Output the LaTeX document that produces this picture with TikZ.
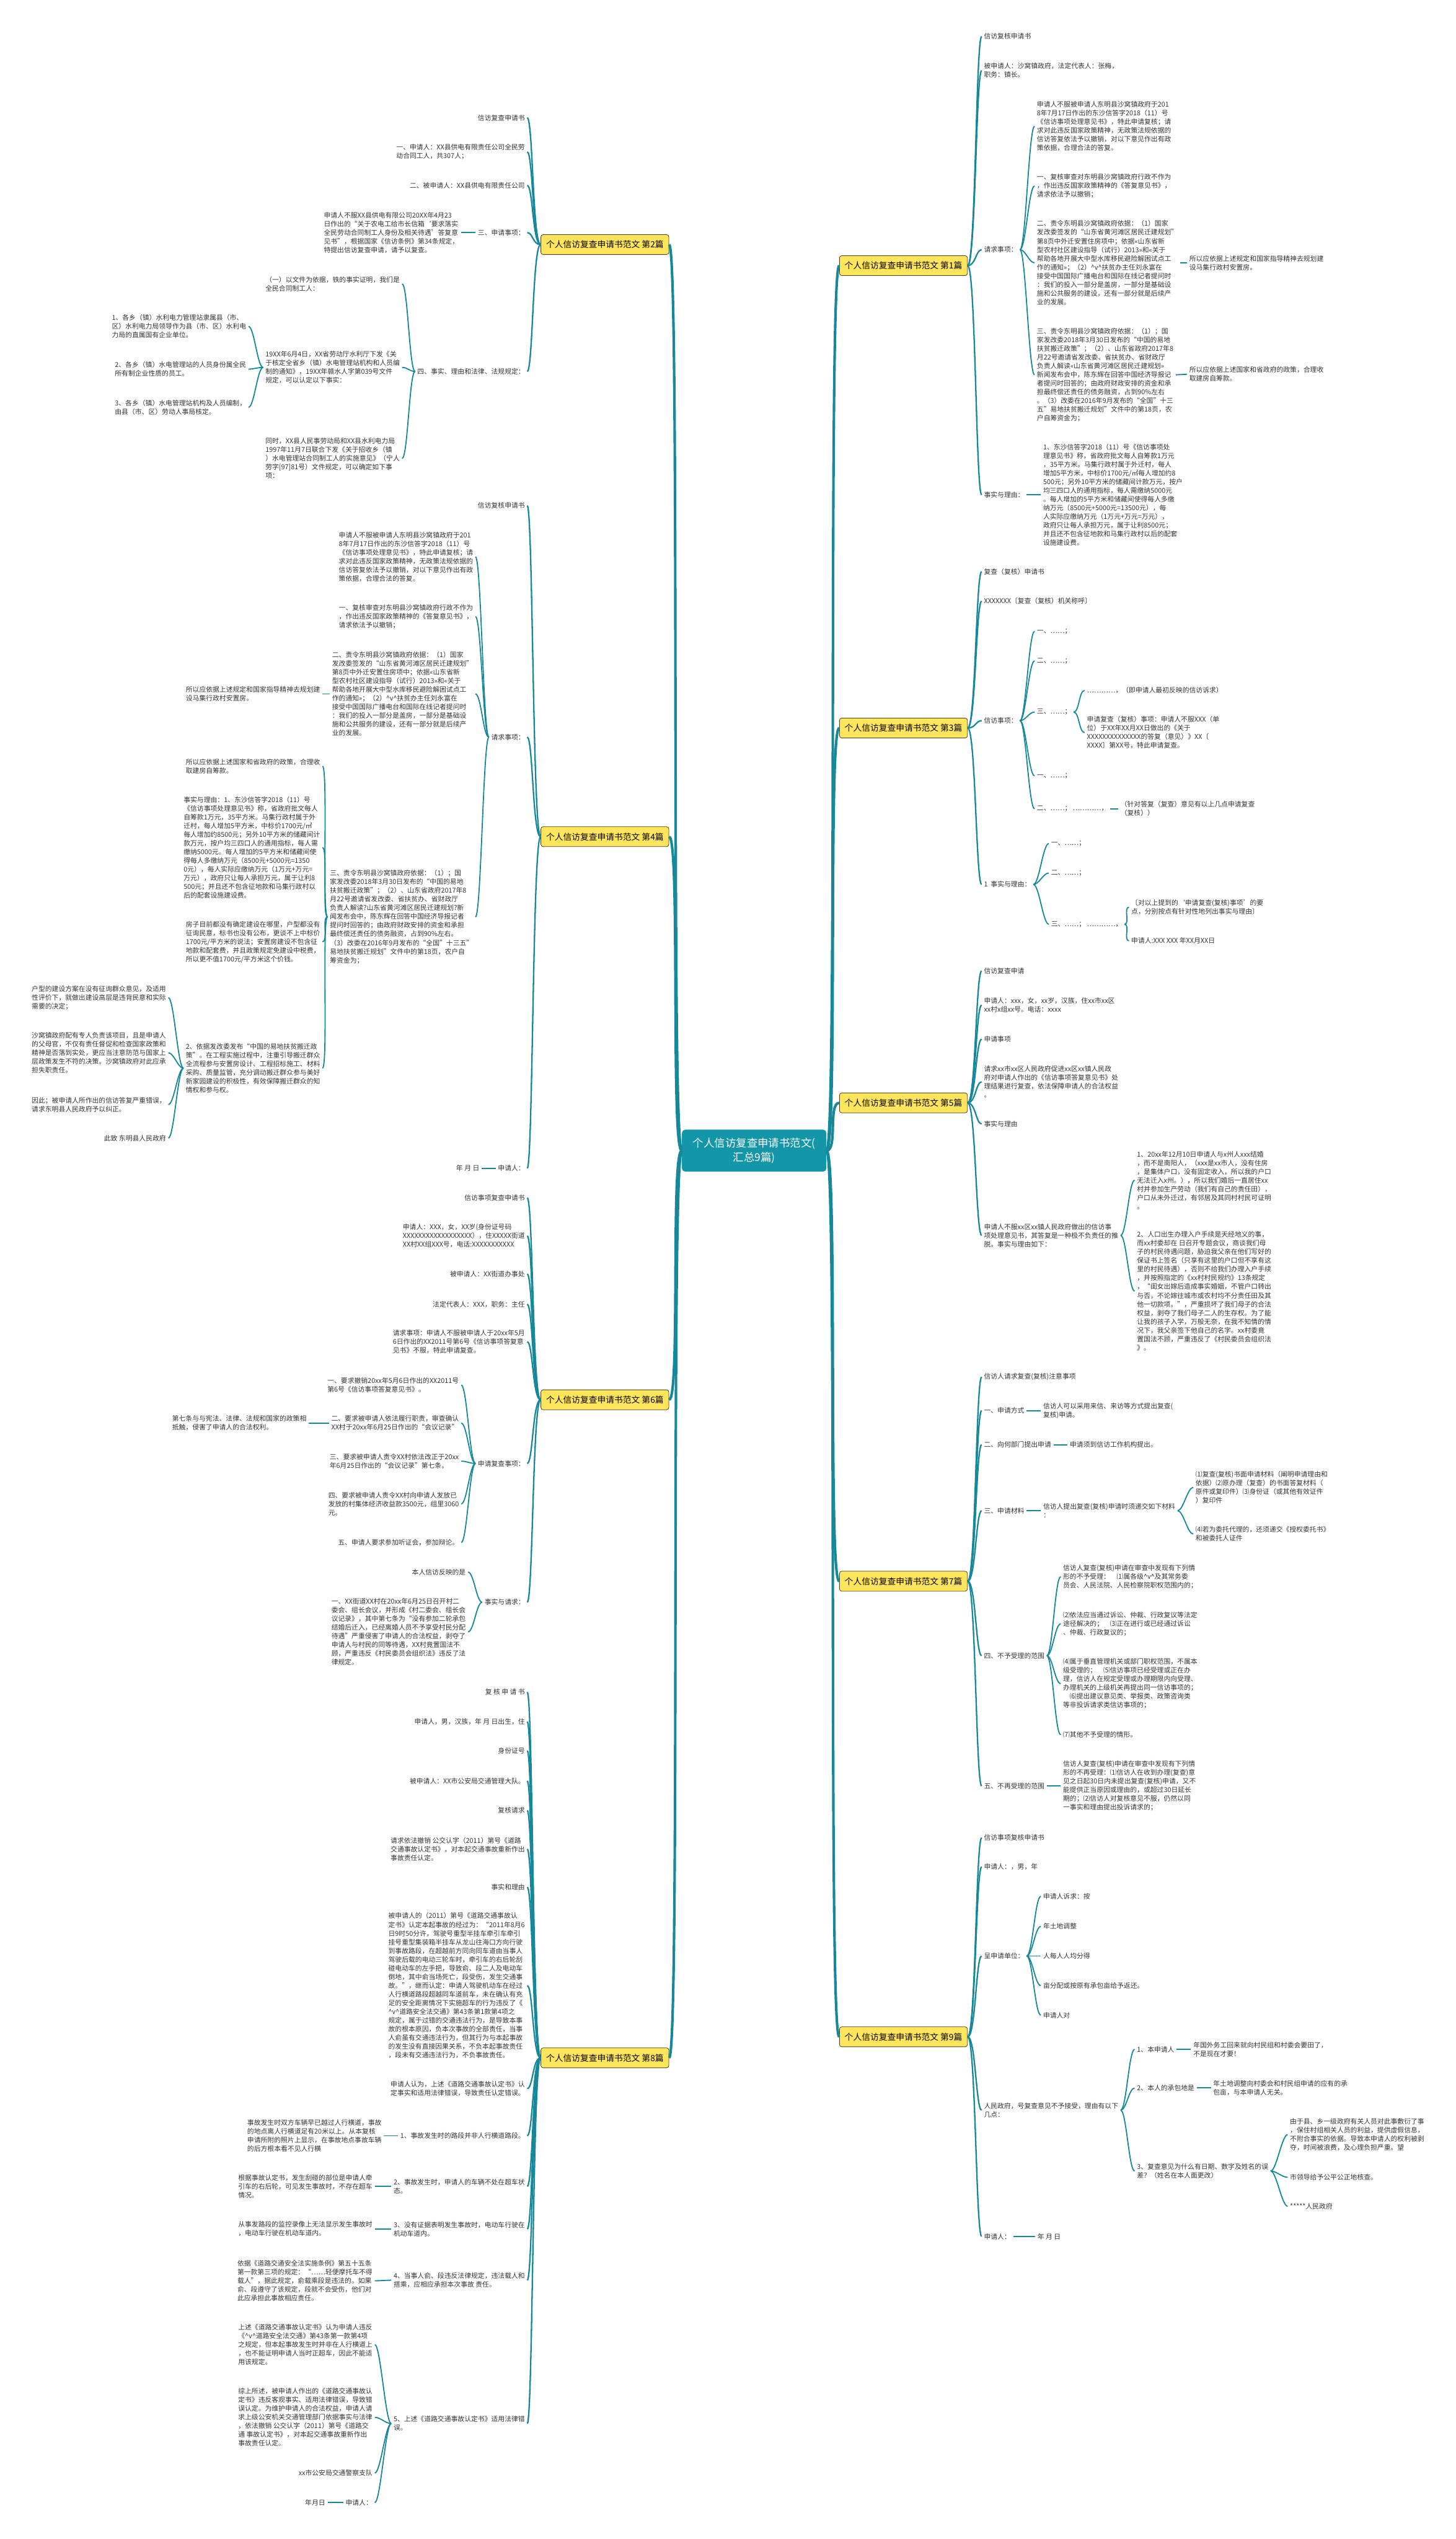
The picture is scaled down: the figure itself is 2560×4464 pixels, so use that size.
\documentclass[tikz,border=0pt]{standalone}
\usepackage{fontspec}
\newfontfamily\cjk{Noto Sans CJK SC}
\usetikzlibrary{calc}
\definecolor{lnk}{HTML}{17889A}
\definecolor{txc}{HTML}{333333}
\definecolor{topicfill}{HTML}{FFE55C}
\definecolor{topicdraw}{HTML}{4A4020}
\definecolor{rootfill}{HTML}{1396A8}
\newcommand\hatv{\textasciicircum v\textasciicircum}
\newcommand\linkR[3][]{\draw[lk,#1] (#2.east) .. controls ($(#2.east)+(14,0)$) and ($(#3.west)+(-14,0)$) .. (#3.west);}
\newcommand\linkL[3][]{\draw[lk,#1] (#2.west) .. controls ($(#2.west)+(-14,0)$) and ($(#3.east)+(14,0)$) .. (#3.east);}
\tikzset{
  R/.style={anchor=west, inner sep=0pt, align=left, font=\cjk\fontsize{11.8}{15.3}\selectfont, text=txc},
  L/.style={R, anchor=east},
  topic/.style={draw=topicdraw, fill=topicfill, rounded corners=4pt, minimum width=225pt, minimum height=35pt, inner sep=0pt, font=\cjk\fontsize{15}{18}\selectfont, text=black, line width=0.9pt},
  rootn/.style={fill=rootfill, rounded corners=6pt, minimum width=254pt, minimum height=74pt, inner sep=0pt, align=center, text=white, font=\cjk\fontsize{19}{25}\selectfont},
  lk/.style={draw=lnk, line width=2pt, shorten <=4pt, shorten >=4pt},
  tl/.style={line width=2.5pt, shorten <=0pt},
  l1/.style={draw=lnk, line width=4.5pt}
}
\begin{document}
\begin{tikzpicture}[x=1pt,y=-1pt]
\fill[white] (0,0) rectangle (2560,4464);
\useasboundingbox (0,0) rectangle (2560,4464);

% root and topics
\node[rootn] (root) at (1326,2023) {个人信访复查申请书范文(\\汇总9篇)};
\node[topic] (r1) at (1588.5,467) {个人信访复查申请书范文 第1篇};
\node[topic] (r3) at (1588.5,1280) {个人信访复查申请书范文 第3篇};
\node[topic] (r5) at (1588.5,1939) {个人信访复查申请书范文 第5篇};
\node[topic] (r7) at (1588.5,2780) {个人信访复查申请书范文 第7篇};
\node[topic] (r9) at (1588.5,3581) {个人信访复查申请书范文 第9篇};
\node[topic] (l2) at (1063.5,430) {个人信访复查申请书范文 第2篇};
\node[topic] (l4) at (1063.5,1471) {个人信访复查申请书范文 第4篇};
\node[topic] (l6) at (1063.5,2461) {个人信访复查申请书范文 第6篇};
\node[topic] (l8) at (1063.5,3618) {个人信访复查申请书范文 第8篇};
\foreach \t in {r1,r3,r5,r7,r9}{
  \draw[l1] (root.east) .. controls ($(root.east)+(20,0)$) and ($(\t.west)+(-20,0)$) .. (\t.west);}
\foreach \t in {l2,l4,l6,l8}{
  \draw[l1] (root.west) .. controls ($(root.west)+(-20,0)$) and ($(\t.east)+(20,0)$) .. (\t.east);}

% ===== 第1篇 =====
\node[R] (r1a) at (1730,64) {信访复核申请书};
\node[R] (r1b) at (1730,124) {被申请人：沙窝镇政府，法定代表人：张梅，\\职务：镇长。};
\node[R] (r1c) at (1730,439) {请求事项：};
\node[R] (r1c1) at (1823,222) {申请人不服被申请人东明县沙窝镇政府于201\\8年7月17日作出的东沙信答字2018（11）号\\《信访事项处理意见书》，特此申请复核；请\\求对此违反国家政策精神，无政策法规依据的\\信访答复依法予以撤销，对以下意见作出有政\\策依据，合理合法的答复。};
\node[R] (r1c2) at (1823,327) {一、复核审查对东明县沙窝镇政府行政不作为\\，作出违反国家政策精神的《答复意见书》，\\请求依法予以撤销；};
\node[R] (r1c3) at (1823,462) {二、责令东明县沙窝镇政府依据：（1）国家\\发改委签发的“山东省黄河滩区居民迁建规划”\\第8页中外迁安置住房项中；依据«山东省新\\型农村社区建设指导（试行）2013»和«关于\\帮助各地开展大中型水库移民避险解困试点工\\作的通知»；（2）\hatv 扶贫办主任刘永富在\\接受中国国际广播电台和国际在线记者提问时\\：我们的投入一部分是盖房，一部分是基础设\\施和公共服务的建设，还有一部分就是后续产\\业的发展。};
\node[R] (r1c3a) at (2091,462) {所以应依据上述规定和国家指导精神去规划建\\设马集行政村安置房。};
\node[R] (r1c4) at (1823,659) {三、责令东明县沙窝镇政府依据：（1）；国\\家发改委2018年3月30日发布的“中国的易地\\扶贫搬迁政策”；（2）、山东省政府2017年8\\月22号邀请省发改委、省扶贫办、省财政厅\\负责人解读«山东省黄河滩区居民迁建规划»\\新闻发布会中，陈东辉在回答中国经济导报记\\者提问时回答的；由政府财政安排的资金和承\\担最终偿还责任的债务融资，占到90\%左右\\。（3）改委在2016年9月发布的“全国”十三\\五”易地扶贫搬迁规划”文件中的第18页，农\\户自筹资金为；};
\node[R] (r1c4a) at (2091,658) {所以应依据上述国家和省政府的政策，合理收\\取建房自筹款。};
\node[R] (r1d) at (1730,870) {事实与理由：};
\node[R] (r1d1) at (1834,870) {1、东沙信答字2018（11）号《信访事项处\\理意见书》称，省政府批文每人自筹款1万元\\，35平方米。马集行政村属于外迁村，每人\\增加5平方米，中标价1700元/㎡每人增加约8\\500元；另外10平方米的储藏间计款万元，按户\\均三四口人的通用指标，每人需缴纳5000元\\。每人增加的5平方米和储藏间使得每人多缴\\纳万元（8500元+5000元=13500元），每\\人实际应缴纳万元（1万元+万元=万元），\\政府只让每人承担万元，属于让利8500元；\\并且还不包含征地款和马集行政村以后的配套\\设施建设费。};
\foreach \c in {r1a,r1b,r1c,r1d}{\linkR[tl]{r1}{\c}}
\foreach \c in {r1c1,r1c2,r1c3,r1c4}{\linkR{r1c}{\c}}
\linkR{r1c3}{r1c3a}
\linkR{r1c4}{r1c4a}
\linkR{r1d}{r1d1}

% ===== 第3篇 =====
\node[R] (r3a) at (1730,1005) {复查（复核）申请书};
\node[R] (r3b) at (1730,1057) {XXXXXXX〔复查（复核）机关称呼〕};
\node[R] (r3c) at (1730,1267) {信访事项：};
\node[R] (r3c1) at (1823,1110) {一、……；};
\node[R] (r3c2) at (1823,1162) {二、……；};
\node[R] (r3c3) at (1823,1252) {三、……；};
\node[R] (r3c3a) at (1911,1214) {…………，（即申请人最初反映的信访诉求）};
\node[R] (r3c3b) at (1911,1288) {申请复查（复核）事项：申请人不服XXX（单\\位）于XX年XX月XX日做出的《关于\\XXXXXXXXXXXXXX的答复（意见）》XX〔\\XXXX〕第XX号，特此申请复查。};
\node[R] (r3c4) at (1823,1364) {一、……；};
\node[R] (r3c5) at (1823,1422) {二、……；\ …………，};
\node[R] (r3c5a) at (1970,1422) {（针对答复（复查）意见有以上几点申请复查\\（复核））};
\node[R] (r3d) at (1730,1555) {1\ \ 事实与理由：};
\node[R] (r3d1) at (1848,1483) {一、……；};
\node[R] (r3d2) at (1848,1535) {二、……；};
\node[R] (r3d3) at (1848,1625) {三、……；\ …………，};
\node[R] (r3d3a) at (1989,1595) {〔对以上提到的‘申请复查(复核)事项’的要\\点，分别按点有针对性地列出事实与理由〕};
\node[R] (r3d3b) at (1989,1654) {申请人:XXX XXX 年XX月XX日};
\foreach \c in {r3a,r3b,r3c,r3d}{\linkR[tl]{r3}{\c}}
\foreach \c in {r3c1,r3c2,r3c3,r3c4,r3c5}{\linkR{r3c}{\c}}
\foreach \c in {r3c3a,r3c3b}{\linkR{r3c3}{\c}}
\linkR{r3c5}{r3c5a}
\foreach \c in {r3d1,r3d2,r3d3}{\linkR{r3d}{\c}}
\foreach \c in {r3d3a,r3d3b}{\linkR{r3d3}{\c}}

% ===== 第5篇 =====
\node[R] (r5a) at (1730,1707) {信访复查申请};
\node[R] (r5b) at (1730,1767) {申请人：xxx，女，xx岁，汉族，住xx市xx区\\xx村x组xx号。电话：xxxx};
\node[R] (r5c) at (1730,1827) {申请事项};
\node[R] (r5d) at (1730,1902) {请求xx市xx区人民政府促进xx区xx镇人民政\\府对申请人作出的《信访事项答复意见书》处\\理结果进行复查，依法保障申请人的合法权益\\。};
\node[R] (r5e) at (1730,1976) {事实与理由};
\node[R] (r5f) at (1730,2172) {申请人不服xx区xx镇人民政府做出的信访事\\项处理意见书，其答复是一种极不负责任的推\\脱。事实与理由如下：};
\node[R] (r5f1) at (1999,2075) {1、20xx年12月10日申请人与x州人xxx结婚\\，而不是南阳人，（xxx是xx市人，没有住房\\，是集体户口，没有固定收入，所以我的户口\\无法迁入x州。），所以我们婚后一直居住xx\\村并参加生产劳动（我们有自己的责任田），\\户口从未外迁过，有邻居及其同村村民可证明\\。};
\node[R] (r5f2) at (1999,2270) {2、人口出生办理入户手续是天经地义的事，\\而xx村委却在 日召开专题会议，商谈我们母\\子的村民待遇问题，胁迫我父亲在他们写好的\\保证书上签名（只享有这里的户口但不享有这\\里的村民待遇），否则不给我们办理入户手续\\，并按照指定的《xx村村民规约》13条规定\\，“闺女出嫁后造成事实婚姻，不管户口转出\\与否，不论嫁往城市或农村均不分责任田及其\\他一切款项。”，严重损坏了我们母子的合法\\权益，剥夺了我们母子二人的生存权。为了能\\让我的孩子入学，万般无奈，在我不知情的情\\况下，我父亲签下他自己的名字。xx村委竟\\置国法不顾，严重违反了《村民委员会组织法\\》。};
\foreach \c in {r5a,r5b,r5c,r5d,r5e,r5f}{\linkR[tl]{r5}{\c}}
\foreach \c in {r5f1,r5f2}{\linkR{r5f}{\c}}

% ===== 第7篇 =====
\node[R] (r7a) at (1730,2421) {信访人请求复查(复核)注意事项};
\node[R] (r7b) at (1730,2480) {一、申请方式};
\node[R] (r7b1) at (1834,2480) {信访人可以采用来信、来访等方式提出复查(\\复核)申请。};
\node[R] (r7c) at (1730,2540) {二、向何部门提出申请};
\node[R] (r7c1) at (1881,2540) {申请须到信访工作机构提出。};
\node[R] (r7d) at (1730,2656) {三、申请材料};
\node[R] (r7d1) at (1834,2656) {信访人提出复查(复核)申请时须递交如下材料\\：};
\node[R] (r7d1a) at (2102,2615) {⑴复查(复核)书面申请材料（阐明申请理由和\\依据）⑵原办理（复查）的书面答复材料（\\原件或复印件）⑶身份证（或其他有效证件\\）复印件};
\node[R] (r7d1b) at (2102,2697) {⑷若为委托代理的，还须递交《授权委托书》\\和被委托人证件};
\node[R] (r7e) at (1730,2911) {四、不予受理的范围};
\node[R] (r7e1) at (1869,2772) {信访人复查(复核)申请在审查中发现有下列情\\形的不予受理：\quad ⑴属各级\hatv 及其常务委\\员会、人民法院、人民检察院职权范围内的；};
\node[R] (r7e2) at (1869,2855) {⑵依法应当通过诉讼、仲裁、行政复议等法定\\途径解决的；\quad ⑶正在进行或已经通过诉讼\\、仲裁、行政复议的；};
\node[R] (r7e3) at (1869,2960) {⑷属于垂直管理机关或部门职权范围，不属本\\级受理的；\quad ⑸信访事项已经受理或正在办\\理，信访人在规定受理或办理期限内向受理、\\办理机关的上级机关再提出同一信访事项的；\\\quad ⑹提出建议意见类、举报类、政策咨询类\\等非投诉请求类信访事项的；};
\node[R] (r7e4) at (1869,3050) {⑺其他不予受理的情形。};
\node[R] (r7f) at (1730,3140) {五、不再受理的范围};
\node[R] (r7f1) at (1869,3140) {信访人复查(复核)申请在审查中发现有下列情\\形的不再受理：⑴信访人在收到办理(复查)意\\见之日起30日内未提出复查(复核)申请，又不\\能提供正当原因或理由的，或超过30日延长\\期的；⑵信访人对复核意见不服，仍然以同\\一事实和理由提出投诉请求的；};
\foreach \c in {r7a,r7b,r7c,r7d,r7e,r7f}{\linkR[tl]{r7}{\c}}
\linkR{r7b}{r7b1}
\linkR{r7c}{r7c1}
\linkR{r7d}{r7d1}
\foreach \c in {r7d1a,r7d1b}{\linkR{r7d1}{\c}}
\foreach \c in {r7e1,r7e2,r7e3,r7e4}{\linkR{r7e}{\c}}
\linkR{r7f}{r7f1}

% ===== 第9篇 =====
\node[R] (r9a) at (1730,3231) {信访事项复核申请书};
\node[R] (r9b) at (1730,3282) {申请人：，男，年};
\node[R] (r9c) at (1730,3439) {呈申请单位：};
\node[R] (r9c1) at (1834,3334) {申请人诉求：按};
\node[R] (r9c2) at (1834,3387) {年土地调整};
\node[R] (r9c3) at (1834,3439) {人每人人均分得};
\node[R] (r9c4) at (1834,3491) {亩分配或按原有承包亩给予返还。};
\node[R] (r9c5) at (1834,3543) {申请人对};
\node[R] (r9d) at (1730,3710) {人民政府，号复查意见不予接受，理由有以下\\几点：};
\node[R] (r9d1) at (1999,3603) {1、本申请人};
\node[R] (r9d1a) at (2098,3603) {年国外务工回来就向村民组和村委会要田了，\\不是现在才要！};
\node[R] (r9d2) at (1999,3671) {2、本人的承包地是};
\node[R] (r9d2a) at (2133,3671) {年土地调整向村委会和村民组申请的应有的承\\包亩，与本申请人无关。};
\node[R] (r9d3) at (1999,3817) {3、复查意见为什么有日期、数字及姓名的误\\差？（姓名在本人面更改）};
\node[R] (r9d3a) at (2268,3753) {由于县、乡一级政府有关人员对此事敷衍了事\\，保住村组相关人员的利益，提供虚假信息，\\不附合事实的依据。导致本申请人的权利被剥\\夺，时间被浪费，及心理负担严重。望};
\node[R] (r9d3b) at (2268,3828) {市领导给予公平公正地核查。};
\node[R] (r9d3c) at (2268,3879) {*****人民政府};
\node[R] (r9e) at (1730,3932) {申请人：};
\node[R] (r9e1) at (1824,3932) {年\ 月\ 日};
\foreach \c in {r9a,r9b,r9c,r9d,r9e}{\linkR[tl]{r9}{\c}}
\foreach \c in {r9c1,r9c2,r9c3,r9c4,r9c5}{\linkR{r9c}{\c}}
\foreach \c in {r9d1,r9d2,r9d3}{\linkR{r9d}{\c}}
\linkR{r9d1}{r9d1a}
\linkR{r9d2}{r9d2a}
\foreach \c in {r9d3a,r9d3b,r9d3c}{\linkR{r9d3}{\c}}
\linkR{r9e}{r9e1}

% ===== 第2篇 =====
\node[L] (l2a) at (923,207) {信访复查申请书};
\node[L] (l2b) at (923,267) {一、申请人：XX县供电有限责任公司全民劳\\动合同工人，共307人；};
\node[L] (l2c) at (923,326) {二、被申请人：XX县供电有限责任公司};
\node[L] (l2d) at (923,409) {三、申请事项：};
\node[L] (l2d1) at (807,409) {申请人不服XX县供电有限公司20XX年4月23\\日作出的“关于农电工给市长信箱‘要求落实\\全民劳动合同制工人身份及相关待遇’答复意\\见书”，根据国家《信访条例》第34条规定，\\特提出信访复查申请，请予以复查。};
\node[L] (l2e) at (923,653) {四、事实、理由和法律、法规规定：};
\node[L] (l2e1) at (703,499) {（一）以文件为依据，铁的事实证明，我们是\\全民合同制工人：};
\node[L] (l2e2) at (703,646) {19XX年6月4日，XX省劳动厅水利厅下发《关\\于核定全省乡（镇）水电管理站机构和人员编\\制的通知》，19XX年赣水人字第039号文件\\规定，可以认定以下事实：};
\node[L] (l2e2a) at (433,574) {1、各乡（镇）水利电力管理站隶属县（市、\\区）水利电力局领导作为县（市、区）水利电\\力局的直属国有企业单位。};
\node[L] (l2e2b) at (433,649) {2、各乡（镇）水电管理站的人员身份属全民\\所有制企业性质的员工。};
\node[L] (l2e2c) at (433,716) {3、各乡（镇）水电管理站机构及人员编制，\\由县（市、区）劳动人事局核定。};
\node[L] (l2e3) at (703,806) {同时，XX县人民事劳动局和XX县水利电力局\\1997年11月7日联合下发《关于招收乡（镇\\）水电管理站合同制工人的实施意见》（宁人\\劳字[97]81号）文件规定，可以确定如下事\\项：};
\foreach \c in {l2a,l2b,l2c,l2d,l2e}{\linkL[tl]{l2}{\c}}
\linkL{l2d}{l2d1}
\foreach \c in {l2e1,l2e2,l2e3}{\linkL{l2e}{\c}}
\foreach \c in {l2e2a,l2e2b,l2e2c}{\linkL{l2e2}{\c}}

% ===== 第4篇 =====
\node[L] (l4a) at (923,889) {信访复核申请书};
\node[L] (l4b) at (923,1296) {请求事项：};
\node[L] (l4b1) at (832,979) {申请人不服被申请人东明县沙窝镇政府于201\\8年7月17日作出的东沙信答字2018（11）号\\《信访事项处理意见书》，特此申请复核；请\\求对此违反国家政策精神，无政策法规依据的\\信访答复依法予以撤销，对以下意见作出有政\\策依据，合理合法的答复。};
\node[L] (l4b2) at (832,1084) {一、复核审查对东明县沙窝镇政府行政不作为\\，作出违反国家政策精神的《答复意见书》，\\请求依法予以撤销；};
\node[L] (l4b3) at (832,1220) {二、责令东明县沙窝镇政府依据：（1）国家\\发改委签发的“山东省黄河滩区居民迁建规划”\\第8页中外迁安置住房项中；依据«山东省新\\型农村社区建设指导（试行）2013»和«关于\\帮助各地开展大中型水库移民避险解困试点工\\作的通知»；（2）\hatv 扶贫办主任刘永富在\\接受中国国际广播电台和国际在线记者提问时\\：我们的投入一部分是盖房，一部分是基础设\\施和公共服务的建设，还有一部分就是后续产\\业的发展。};
\node[L] (l4b3a) at (563,1220) {所以应依据上述规定和国家指导精神去规划建\\设马集行政村安置房。};
\node[L] (l4b4) at (832,1612) {三、责令东明县沙窝镇政府依据：（1）；国\\家发改委2018年3月30日发布的“中国的易地\\扶贫搬迁政策”；（2）、山东省政府2017年8\\月22号邀请省发改委、省扶贫办、省财政厅\\负责人解读?山东省黄河滩区居民迁建规划?新\\闻发布会中，陈东辉在回答中国经济导报记者\\提问时回答的；由政府财政安排的资金和承担\\最终偿还责任的债务融资，占到90\%左右。\\（3）改委在2016年9月发布的“全国”十三五”\\易地扶贫搬迁规划”文件中的第18页，农户自\\筹资金为；};
\node[L] (l4b4a) at (563,1347) {所以应依据上述国家和省政府的政策，合理收\\取建房自筹款。};
\node[L] (l4b4b) at (563,1490) {事实与理由：1、东沙信答字2018（11）号\\《信访事项处理意见书》称，省政府批文每人\\自筹款1万元，35平方米。马集行政村属于外\\迁村，每人增加5平方米，中标价1700元/㎡\\每人增加约8500元；另外10平方米的储藏间计\\款万元，按户均三四口人的通用指标，每人需\\缴纳5000元。每人增加的5平方米和储藏间使\\得每人多缴纳万元（8500元+5000元=1350\\0元），每人实际应缴纳万元（1万元+万元=\\万元），政府只让每人承担万元，属于让利8\\500元；并且还不包含征地款和马集行政村以\\后的配套设施建设费。};
\node[L] (l4b4c) at (563,1656) {房子目前都没有确定建设在哪里，户型都没有\\征询民意，标书也没有公布，更谈不上中标价\\1700元/平方米的说法；安置房建设不包含征\\地款和配套费，并且政策规定免建设中税费，\\所以更不值1700元/平方米这个价钱。};
\node[L] (l4b4d) at (563,1878) {2、依据发改委发布“中国的易地扶贫搬迁政\\策”。在工程实施过程中，注重引导搬迁群众\\全流程参与安置房设计、工程招标施工、材料\\采购、质量监管，充分调动搬迁群众参与美好\\新家园建设的积极性，有效保障搬迁群众的知\\情权和参与权。};
\node[L] (l4b4d1) at (292,1754) {户型的建设方案在没有征询群众意见，及适用\\性评价下，就做出建设高层是违背民意和实际\\需要的决定；};
\node[L] (l4b4d2) at (292,1851) {沙窝镇政府配有专人负责该项目，且是申请人\\的父母官，不仅有责任督促和检查国家政策和\\精神是否落到实处，更应当注意防范与国家上\\层政策发生不符的决策。沙窝镇政府对此应承\\担失职责任。};
\node[L] (l4b4d3) at (292,1942) {因此；被申请人所作出的信访答复严重错误，\\请求东明县人民政府予以纠正。};
\node[L] (l4b4d4) at (292,2001) {此致 东明县人民政府};
\node[L] (l4c) at (923,2054) {申请人：};
\node[L] (l4c1) at (843,2054) {年\ 月\ 日};
\foreach \c in {l4a,l4b,l4c}{\linkL[tl]{l4}{\c}}
\foreach \c in {l4b1,l4b2,l4b3,l4b4}{\linkL{l4b}{\c}}
\linkL{l4b3}{l4b3a}
\foreach \c in {l4b4a,l4b4b,l4b4c,l4b4d}{\linkL{l4b4}{\c}}
\foreach \c in {l4b4d1,l4b4d2,l4b4d3,l4b4d4}{\linkL{l4b4d}{\c}}
\linkL{l4c}{l4c1}

% ===== 第6篇 =====
\node[L] (l6a) at (923,2106) {信访事项复查申请书};
\node[L] (l6b) at (923,2173) {申请人：XXX，女，XX岁(身份证号码\\XXXXXXXXXXXXXXXXXX），住XXXXX街道\\XX村XX组XXX号，电话:XXXXXXXXXXX};
\node[L] (l6c) at (923,2240) {被申请人：XX街道办事处};
\node[L] (l6d) at (923,2293) {法定代表人：XXX，职务：主任};
\node[L] (l6e) at (923,2359) {请求事项：申请人不服被申请人于20xx年5月\\6日作出的XX2011号第6号《信访事项答复意\\见书》不服，特此申请复查。};
\node[L] (l6f) at (923,2573) {申请复查事项：};
\node[L] (l6f1) at (807,2435) {一、要求撤销20xx年5月6日作出的XX2011号\\第6号《信访事项答复意见书》。};
\node[L] (l6f2) at (807,2502) {二、要求被申请人依法履行职责，审查确认\\XX村于20xx年6月25日作出的“会议记录”};
\node[L] (l6f2a) at (539,2502) {第七条与与宪法、法律、法规和国家的政策相\\抵触，侵害了申请人的合法权利。};
\node[L] (l6f3) at (807,2569) {三、要求被申请人责令XX村依法改正于20xx\\年6月25日作出的“会议记录”第七条。};
\node[L] (l6f4) at (807,2644) {四、要求被申请人责令XX村向申请人发放已\\发放的村集体经济收益款3500元，组里3060\\元。};
\node[L] (l6f5) at (807,2712) {五、申请人要求参加听证会，参加辩论。};
\node[L] (l6g) at (923,2817) {事实与请求：};
\node[L] (l6g1) at (819,2764) {本人信访反映的是};
\node[L] (l6g2) at (819,2869) {一、XX街道XX村在20xx年6月25日召开村二\\委会、组长会议，并形成《村二委会、组长会\\议记录》，其中第七条为“没有参加二轮承包\\结婚后迁入，已经离婚人员不予享受村民分配\\待遇”严重侵害了申请人的合法权益，剥夺了\\申请人与村民的同等待遇，XX村竟置国法不\\顾，严重违反《村民委员会组织法》违反了法\\律规定。};
\foreach \c in {l6a,l6b,l6c,l6d,l6e,l6f,l6g}{\linkL[tl]{l6}{\c}}
\foreach \c in {l6f1,l6f2,l6f3,l6f4,l6f5}{\linkL{l6f}{\c}}
\linkL{l6f2}{l6f2a}
\foreach \c in {l6g1,l6g2}{\linkL{l6g}{\c}}

% ===== 第8篇 =====
\node[L] (l8a) at (923,2975) {复\ 核\ 申\ 请\ 书};
\node[L] (l8b) at (923,3027) {申请人，男，汉族，年\ 月\ 日出生，住};
\node[L] (l8c) at (923,3078) {身份证号};
\node[L] (l8d) at (923,3131) {被申请人：XX市公安局交通管理大队。};
\node[L] (l8e) at (923,3183) {复核请求};
\node[L] (l8f) at (923,3251) {请求依法撤销 公交认字（2011）第号《道路\\交通事故认定书》，对本起交通事故重新作出\\事故责任认定。};
\node[L] (l8g) at (923,3318) {事实和理由};
\node[L] (l8h) at (923,3491) {被申请人的（2011）第号《道路交通事故认\\定书》认定本起事故的经过为：“2011年8月6\\日9时50分许，驾驶号重型半挂车牵引车牵引\\挂号重型集装箱半挂车从龙山往海口方向行驶\\到事故路段，在超越前方同向同车道由当事人\\驾驶后载的电动三轮车时，牵引车的右后轮刮\\碰电动车的左手把，导致俞、段二人及电动车\\倒地，其中俞当场死亡，段受伤，发生交通事\\故。”，继而认定：申请人驾驶机动车在经过\\人行横道路段超越同车道前车，未在确认有充\\足的安全距离情况下实施超车的行为违反了《\\\hatv 道路安全法交通》第43条第1款第4项之\\规定，属于过错的交通违法行为，是导致本事\\故的根本原因，负本次事故的全部责任，当事\\人俞虽有交通违法行为，但其行为与本起事故\\的发生没有直接因果关系，不负本起事故责任\\，段未有交通违法行为，不负事故责任。};
\node[L] (l8i) at (923,3672) {申请人认为，上述《道路交通事故认定书》认\\定事实和适用法律错误，导致责任认定错误。};
\node[L] (l8j) at (923,3755) {1、事故发生时的路段并非人行横道路段。};
\node[L] (l8j1) at (671,3755) {事故发生时双方车辆早已越过人行横道，事故\\的地点离人行横道足有20米以上。从本复核\\申请所附的照片上显示，在事故地点事故车辆\\的后方根本看不见人行横};
\node[L] (l8k) at (923,3844) {2、事故发生时，申请人的车辆不处在超车状\\态。};
\node[L] (l8k1) at (655,3844) {根据事故认定书，发生刮碰的部位是申请人牵\\引车的右后轮，可见发生事故时，不存在超车\\情况。};
\node[L] (l8l) at (923,3919) {3、没有证据表明发生事故时，电动车行驶在\\机动车道内。};
\node[L] (l8l1) at (655,3919) {从事发路段的监控录像上无法显示发生事故时\\，电动车行驶在机动车道内。};
\node[L] (l8m) at (923,4009) {4、当事人俞、段违反法律规定，违法载人和\\搭乘，应相应承担本次事故 责任。};
\node[L] (l8m1) at (655,4010) {依据《道路交通安全法实施条例》第五十五条\\第一款第三项的规定：“……轻便摩托车不得\\载人”，据此规定，俞载乘段是违法的。如果\\俞、段遵守了该规定，段就不会受伤，他们对\\此应承担此事故相应责任。};
\node[L] (l8n) at (923,4261) {5、上述《道路交通事故认定书》适用法律错\\误。};
\node[L] (l8n1) at (655,4122) {上述《道路交通事故认定书》认为申请人违反\\《\hatv 道路安全法交通》第43条第一款第4项\\之规定，但本起事故发生时并非在人行横道上\\，也不能证明申请人当时正超车，因此不能适\\用该规定。};
\node[L] (l8n2) at (655,4250) {综上所述，被申请人作出的《道路交通事故认\\定书》违反客观事实、适用法律错误，导致错\\误认定。为维护申请人的合法权益，申请人请\\求上级公安机关交通管理部门依据事实与法律\\，依法撤销 公交认字（2011）第号《道路交\\通 事故认定书》，对本起交通事故重新作出\\事故责任认定。};
\node[L] (l8n3) at (655,4348) {xx市公安局交通警察支队};
\node[L] (l8n4) at (655,4400) {申请人：};
\node[L] (l8n4a) at (572,4400) {年月日};
\foreach \c in {l8a,l8b,l8c,l8d,l8e,l8f,l8g,l8h,l8i,l8j,l8k,l8l,l8m,l8n}{\linkL[tl]{l8}{\c}}
\linkL{l8j}{l8j1}
\linkL{l8k}{l8k1}
\linkL{l8l}{l8l1}
\linkL{l8m}{l8m1}
\foreach \c in {l8n1,l8n2,l8n3,l8n4}{\linkL{l8n}{\c}}
\linkL{l8n4}{l8n4a}
\end{tikzpicture}
\end{document}
